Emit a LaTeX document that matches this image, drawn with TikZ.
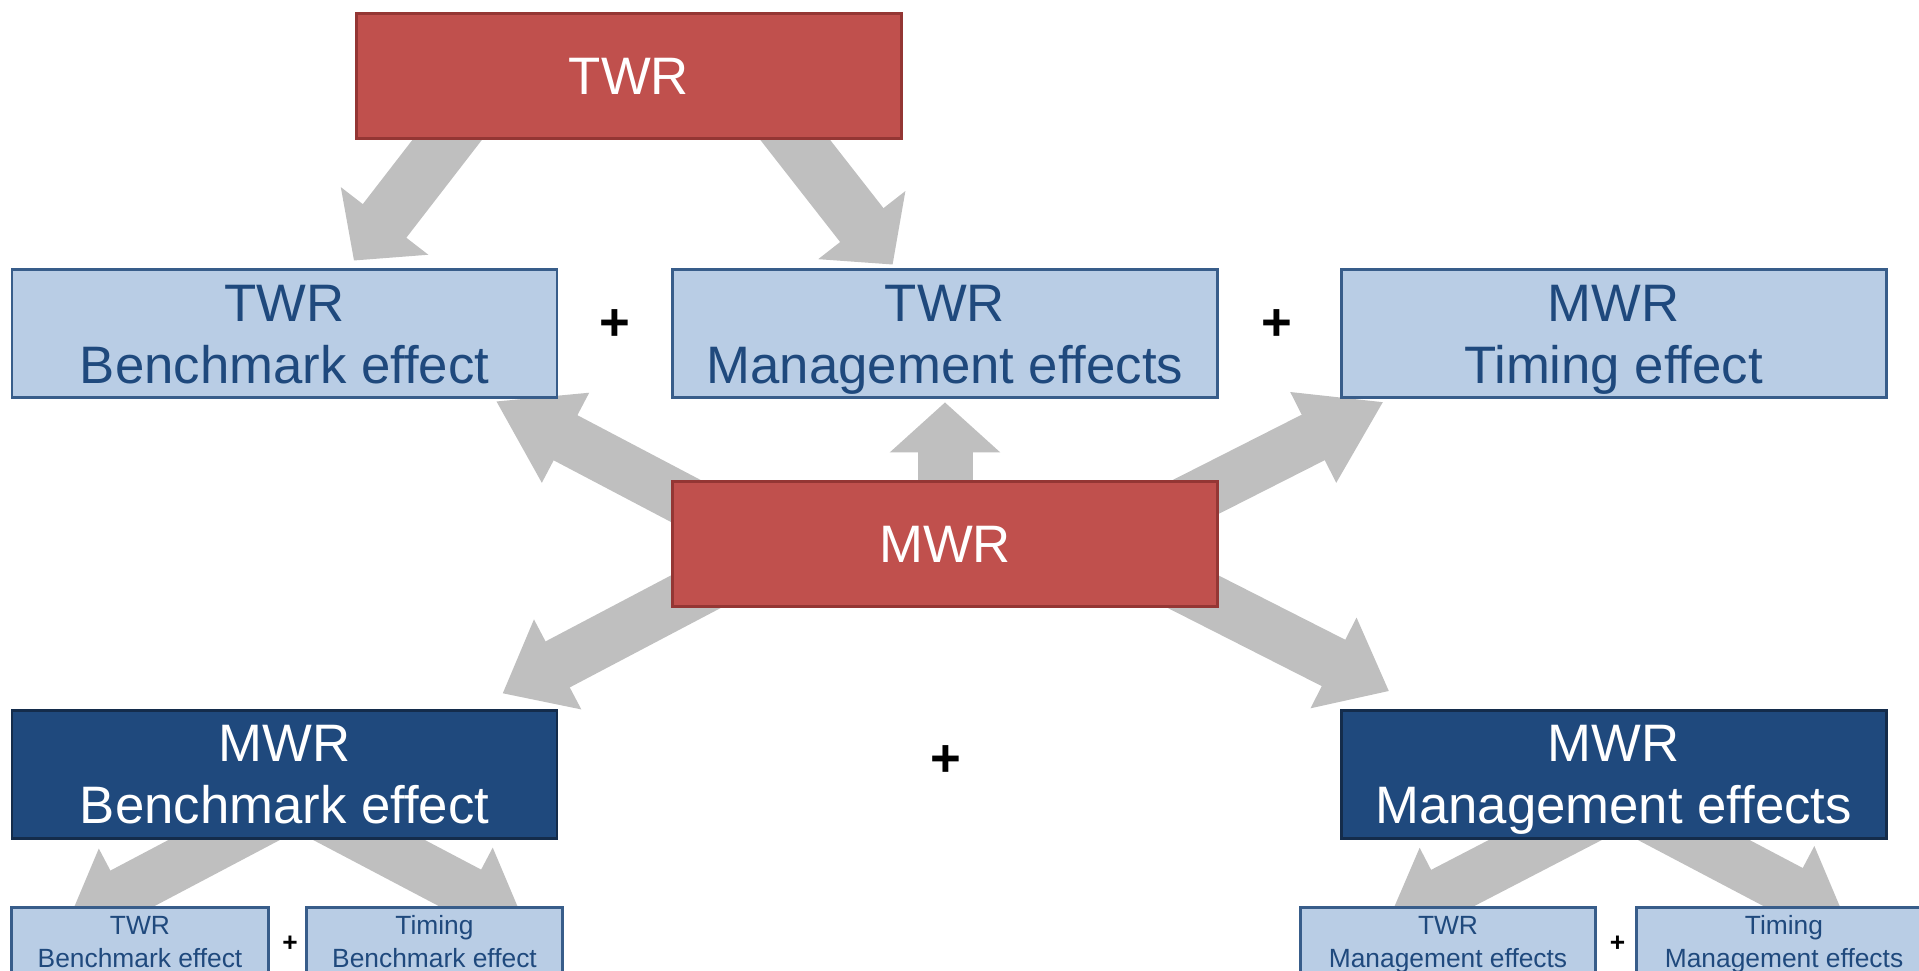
\documentclass[tikz,border=0pt]{standalone}
\usepackage{fontspec}
\setmainfont{Liberation Sans}
\usetikzlibrary{arrows.meta,backgrounds,calc}

\definecolor{redfill}{HTML}{C0504D}
\definecolor{redline}{HTML}{943634}
\definecolor{palefill}{HTML}{B9CDE5}
\definecolor{paleline}{HTML}{385D8A}
\definecolor{navyfill}{HTML}{1F497D}
\definecolor{navyline}{HTML}{142C4B}
\definecolor{arrowgray}{HTML}{BFBFBF}

\newcommand{\boxfont}{\fontsize{15}{17.6}\selectfont}
\newcommand{\smallboxfont}{\fontsize{7.5}{9.4}\selectfont}
% last line of a box text: no descender, so every box is centred alike
\newcommand{\lastline}[2][2.2pt]{\raisebox{0pt}[\height][-#1]{#2}}

\begin{document}
\begin{tikzpicture}[
  box/.style={line width=0.85pt, inner sep=0pt, align=center, minimum width=5.45cm},
  redbox/.style={box, draw=redline, fill=redfill, text=white, font=\boxfont, minimum height=1.25cm},
  palebox/.style={box, draw=paleline, fill=palefill, text=navyfill, font=\boxfont, minimum height=1.28cm},
  navybox/.style={box, draw=navyline, fill=navyfill, text=white, font=\boxfont, minimum height=1.28cm},
  smallbox/.style={box, draw=paleline, fill=palefill, text=navyfill, font=\smallboxfont, minimum height=0.68cm},
  plus/.style={font=\boxfont\bfseries},
  smallplus/.style={font=\smallboxfont\bfseries},
  flow/.style={draw=arrowgray, line width=0.55cm, -{Triangle[length=0.5cm, width=1.1cm, line width=1pt]}},
  flowlong/.style={draw=arrowgray, line width=0.51cm, -{Triangle[length=0.78cm, width=1.01cm, line width=1pt]}},
  flowshort/.style={draw=arrowgray, line width=0.52cm, -{Triangle[length=0.62cm, width=1.01cm, line width=1pt]}}
]
\useasboundingbox (0,0) rectangle (19.19,9.71);
% returns
\node[redbox] (twr) at (6.29,8.95) {TWR};
\node[redbox] (mwr) at (9.45,4.27) {MWR};
% first split
\node[palebox] (tb) at (2.845,6.37) {TWR\\\lastline{Benchmark effect}};
\node[palebox] (tm) at (9.45,6.37) {TWR\\\lastline{Management effects}};
\node[palebox] (mt) at (16.135,6.37) {MWR\\\lastline{Timing effect}};
\node[navybox] (mb) at (2.845,1.965) {MWR\\\lastline{Benchmark effect}};
\node[navybox] (mm) at (16.135,1.965) {MWR\\\lastline{Management effects}};
% second split
\node[smallbox, minimum width=2.57cm] (sb1) at (1.40,0.292) {TWR\\\lastline[0pt]{Benchmark effect}};
\node[smallbox, minimum width=2.56cm] (sb2) at (4.345,0.292) {Timing\\\lastline[0pt]{Benchmark effect}};
\node[smallbox, minimum width=2.955cm] (sb3) at (14.48,0.292) {TWR\\\lastline[0pt]{Management effects}};
\node[smallbox, minimum width=2.955cm] (sb4) at (17.84,0.292) {Timing\\\lastline[0pt]{Management effects}};
% plus signs
\node[plus] (p1) at (6.144,6.46) {+};
\node[plus] (p2) at (12.77,6.46) {+};
\node[plus] (p3) at (9.46,2.10) {+};
\node[smallplus] (p4) at (2.90,0.27) {+};
\node[smallplus] (p5) at (16.176,0.27) {+};
% arrows behind the boxes
\begin{scope}[on background layer]
\draw[flow] ($(twr.center)+(-1.51,-0.24)$) -- ($(tb.north)+(0.695,0.08)$);
\draw[flow] ($(twr.center)+(1.35,-0.24)$) -- ($(tm.north)+(-0.524,0.04)$);
\draw[flow] (mwr.center) -- ($(tm.south)+(0,-0.03)$);
\draw[flowlong] ($(mwr.center)+(-2.25,0.25)$) -- ($(tb.south east)+(-0.62,-0.02)$);
\draw[flowlong] ($(mwr.center)+(2.25,0.34)$) -- ($(mt.south west)+(0.433,-0.027)$);
\draw[flowshort] ($(mwr.center)+(-2.25,-0.35)$) -- ($(mb.north east)+(-0.557,0.157)$);
\draw[flowshort] ($(mwr.center)+(2.25,-0.36)$) -- ($(mm.north west)+(0.493,0.18)$);
\draw[flowshort] ($(mb.center)+(0.155,-0.255)$) -- ($(sb1.center)+(-0.723,0.193)$);
\draw[flowshort] ($(mb.center)+(0.085,-0.255)$) -- ($(sb2.center)+(0.894,0.203)$);
\draw[flowshort] ($(mm.center)+(0.073,-0.264)$) -- ($(sb3.center)+(-0.60,0.203)$);
\draw[flowshort] ($(mm.center)+(0.019,-0.243)$) -- ($(sb4.center)+(0.615,0.219)$);
\end{scope}
\end{tikzpicture}
\end{document}
